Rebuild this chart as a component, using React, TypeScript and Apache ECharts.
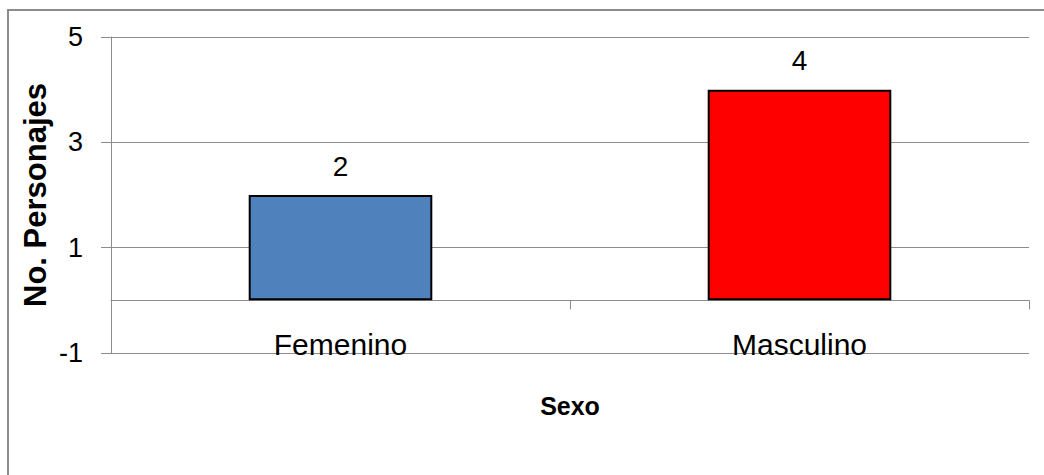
import React, { useEffect, useRef } from "react";
import * as echarts from "echarts";

const categories = ["Femenino", "Masculino"];
const values = [2, 4];
const barColors = ["#4F81BD", "#FF0000"];
const yTicks = { min: -1, max: 5, interval: 2 };
const yTitle = "No. Personajes";
const xTitle = "Sexo";

export default function App() {
  const ref = useRef<HTMLDivElement>(null);
  useEffect(() => {
    if (!ref.current) return;
    const chart = echarts.init(ref.current, null, { renderer: "svg" });
    const font = "'Liberation Sans', Arial, sans-serif";
    chart.setOption({
      animation: false,
      backgroundColor: "#ffffff",
      textStyle: { fontFamily: font },
      graphic: [
        {
          type: "rect",
          shape: { x: 8, y: 10, width: 1200, height: 700 },
          style: { fill: "none", stroke: "#8c8c8c", lineWidth: 2 },
          silent: true,
        },
      ],
      grid: {
        left: 111,
        right: 15,
        top: 37,
        bottom: 122,
        containLabel: false,
        outerBoundsMode: "none",
      },
      xAxis: {
        type: "category",
        data: categories,
        axisLine: { onZero: true, lineStyle: { color: "#8c8c8c", width: 1 } },
        axisTick: { show: true, length: 9, lineStyle: { color: "#8c8c8c" } },
        axisLabel: {
          margin: -9,
          verticalAlign: "middle",
          fontSize: 30,
          color: "#000",
          fontFamily: font,
        },
        name: xTitle,
        nameLocation: "middle",
        nameGap: 40,
        nameMoveOverlap: false,
        nameTextStyle: { fontSize: 25, fontWeight: "bold", color: "#000", fontFamily: font },
      },
      yAxis: {
        type: "value",
        min: yTicks.min,
        max: yTicks.max,
        interval: yTicks.interval,
        axisLine: { show: true, lineStyle: { color: "#8c8c8c", width: 1 } },
        axisTick: { show: true, length: 10, lineStyle: { color: "#8c8c8c" } },
        splitLine: { show: true, lineStyle: { color: "#8c8c8c", width: 1 } },
        axisLabel: { margin: 28, fontSize: 27, color: "#000", fontFamily: font },
        name: yTitle,
        nameLocation: "middle",
        nameRotate: 90,
        nameGap: 60,
        nameMoveOverlap: false,
        nameTextStyle: { fontSize: 31, fontWeight: "bold", color: "#000", fontFamily: font },
      },
      series: [
        {
          type: "bar",
          barWidth: "40%",
          data: values.map((v, i) => ({
            value: v,
            itemStyle: { color: barColors[i], borderColor: "#000", borderWidth: 2 },
          })),
          label: {
            show: true,
            position: "top",
            distance: 15,
            fontSize: 28,
            color: "#000",
            fontFamily: font,
          },
        },
      ],
    });
    return () => chart.dispose();
  }, []);
  return (
    <div
      ref={ref}
      style={{ position: "absolute", left: 0, top: 0, width: 1044, height: 475 }}
    />
  );
}
